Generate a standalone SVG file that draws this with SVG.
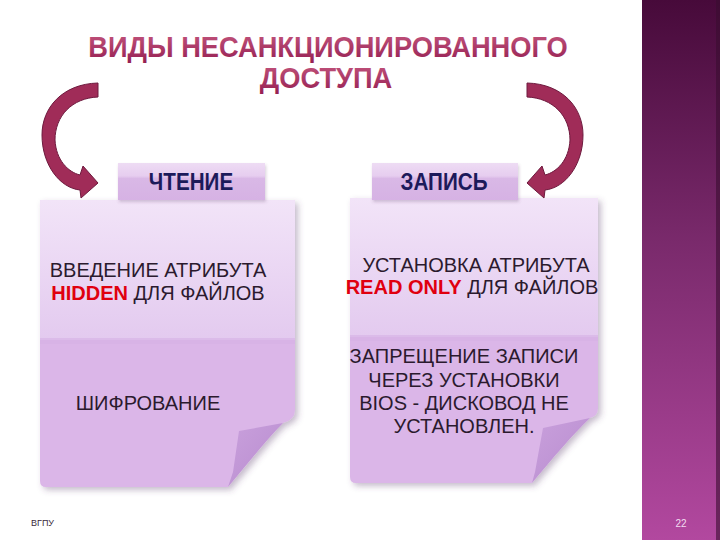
<svg xmlns="http://www.w3.org/2000/svg" width="720" height="540" viewBox="0 0 720 540">
<defs>
<linearGradient id="side" x1="0" y1="0" x2="0" y2="1">
<stop offset="0" stop-color="#470a3a"/>
<stop offset="0.45" stop-color="#7a2a6c"/>
<stop offset="1" stop-color="#b2489f"/>
</linearGradient>
<linearGradient id="title" x1="0" y1="0" x2="0" y2="1">
<stop offset="0" stop-color="#c4567e"/>
<stop offset="1" stop-color="#951f52"/>
</linearGradient>
<linearGradient id="cardTop" x1="0" y1="0" x2="0" y2="1">
<stop offset="0" stop-color="#f2e4f8"/>
<stop offset="1" stop-color="#e3caef"/>
</linearGradient>
<linearGradient id="tab" x1="0" y1="0" x2="0" y2="1">
<stop offset="0" stop-color="#eedcf4"/>
<stop offset="0.35" stop-color="#e6cdef"/>
<stop offset="0.42" stop-color="#d9b8e6"/>
<stop offset="1" stop-color="#d6b2e4"/>
</linearGradient>
<linearGradient id="flap" x1="0" y1="0" x2="1" y2="1">
<stop offset="0" stop-color="#c9a0dc"/>
<stop offset="1" stop-color="#b88ccf"/>
</linearGradient>
<filter id="sh" x="-10%" y="-10%" width="125%" height="125%">
<feDropShadow dx="3" dy="3" stdDeviation="3" flood-color="#5a3a6a" flood-opacity="0.35"/>
</filter>
<filter id="sh2" x="-10%" y="-10%" width="125%" height="130%">
<feDropShadow dx="1" dy="2" stdDeviation="1.5" flood-color="#5a3a6a" flood-opacity="0.25"/>
</filter>
</defs>
<style>
.ttl{font-family:"Liberation Sans",Arial,sans-serif;font-weight:bold;font-size:29px;fill:url(#title);text-anchor:middle}
.tabt{font-family:"Liberation Sans",Arial,sans-serif;font-weight:bold;font-size:24px;fill:#1c1a5a;text-anchor:middle}
.txt{font-family:"Liberation Sans",Arial,sans-serif;font-size:20px;fill:#2b1a2e;text-anchor:middle}
.red{font-weight:bold;fill:#e0000f}
.arrow{fill:#a02c58;stroke:#6e1a3e;stroke-width:1}
.lower{fill:#dbb6e8}
</style>
<rect width="720" height="540" fill="#ffffff"/>
<g id="sidebar">
<rect x="642" y="0" width="78" height="540" fill="url(#side)"/>
<rect x="716" y="0" width="4" height="540" fill="#3a0e30" opacity="0.6"/>
<text x="681" y="527" font-family="'Liberation Sans',Arial,sans-serif" font-size="10" fill="#f2dcf0" text-anchor="middle">22</text>
</g>
<g id="title">
<text class="ttl" transform="translate(328,57) scale(0.94,1)">ВИДЫ НЕСАНКЦИОНИРОВАННОГО</text>
<text class="ttl" transform="translate(326,88) scale(0.94,1)">ДОСТУПА</text>
</g>
<g id="node-read">
<g filter="url(#sh)">
<path d="M40,200 H295 V410 Q295,420 283,423 C266,440 246,466 228,487 H46 Q40,487 40,481 Z" class="lower"/>
</g>
<path d="M40,200 H295 V340 H40 Z" fill="url(#cardTop)"/>
<rect x="40" y="338" width="255" height="6" fill="#d6b0e4" opacity="0.6"/>
<path d="M239,431 L283,423 C266,440 246,466 228,487 L233,472 Z" fill="url(#flap)"/>
<g filter="url(#sh2)">
<rect x="118" y="163" width="147" height="37" fill="url(#tab)"/>
</g>
<text class="tabt" transform="translate(191,190) scale(0.86,1)">ЧТЕНИЕ</text>
<text class="txt" x="158" y="277">ВВЕДЕНИЕ АТРИБУТА</text>
<text class="txt" x="158" y="300"><tspan class="red">HIDDEN</tspan> ДЛЯ ФАЙЛОВ</text>
<text class="txt" x="148" y="410">ШИФРОВАНИЕ</text>
</g>
<g id="node-write">
<g filter="url(#sh)">
<path d="M350,198 H598 V408 Q598,416 590,418 C573,434 551,460 532,483 H356 Q350,483 350,477 Z" class="lower"/>
</g>
<path d="M350,198 H598 V337 H350 Z" fill="url(#cardTop)"/>
<rect x="350" y="335" width="248" height="6" fill="#d6b0e4" opacity="0.6"/>
<path d="M543,428 L590,418 C573,434 551,460 532,483 L535,472 Z" fill="url(#flap)"/>
<g filter="url(#sh2)">
<rect x="372" y="163" width="146" height="37" fill="url(#tab)"/>
</g>
<text class="tabt" transform="translate(444,190) scale(0.86,1)">ЗАПИСЬ</text>
<text class="txt" x="476" y="272">УСТАНОВКА АТРИБУТА</text>
<text class="txt" x="472" y="294"><tspan class="red">READ ONLY</tspan> ДЛЯ ФАЙЛОВ</text>
<text class="txt" x="464" y="363">ЗАПРЕЩЕНИЕ ЗАПИСИ</text>
<text class="txt" x="464" y="387">ЧЕРЕЗ УСТАНОВКИ</text>
<text class="txt" x="464" y="410">BIOS - ДИСКОВОД НЕ</text>
<text class="txt" x="464" y="433">УСТАНОВЛЕН.</text>
</g>
<g id="connectors">
<path id="arrow-left" class="arrow" d="M98,83 C62,84 42,108 42,135 C42,165 60,188 80,190 L81,198 L98,183 L83,166 L80,175 C68,172 56,160 55,140 C55,116 72,98 98,97 Z"/>
<path id="arrow-right" class="arrow" transform="translate(625,0) scale(-1,1)" d="M98,83 C62,84 42,108 42,135 C42,165 60,188 80,190 L81,198 L98,183 L83,166 L80,175 C68,172 56,160 55,140 C55,116 72,98 98,97 Z"/>
</g>
<g id="footer">
<text x="31" y="526" font-family="'Liberation Sans',Arial,sans-serif" font-size="9" fill="#3a2a3a">ВГПУ</text>
</g>
</svg>
